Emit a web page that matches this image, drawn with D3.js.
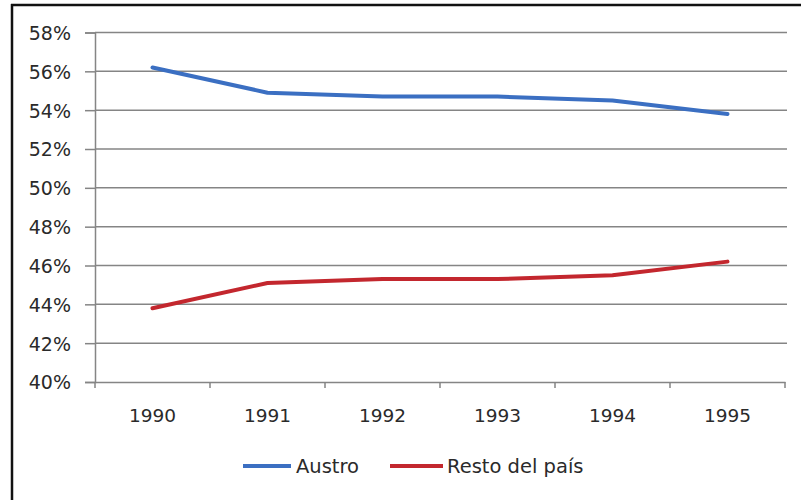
<!DOCTYPE html>
<html>
<head>
<meta charset="utf-8">
<script src="https://cdn.jsdelivr.net/npm/d3@7"></script>
<style>
  html, body { margin: 0; padding: 0; background: #fff; }
  svg { display: block; }
</style>
</head>
<body>
<svg id="chart" width="801" height="500"></svg>
<script>
const years = ["1990", "1991", "1992", "1993", "1994", "1995"];
const austro = [56.2, 54.9, 54.7, 54.7, 54.5, 53.8];
const resto = [43.8, 45.1, 45.3, 45.3, 45.5, 46.2];
const yTicks = [40, 42, 44, 46, 48, 50, 52, 54, 56, 58];
const seriesNames = ["Austro", "Resto del país"];
const seriesColors = ["#3b6fc2", "#c3272e"];

const svg = d3.select("#chart");
const W = 801, H = 500;

// frame
svg.append("line").attr("x1", 11).attr("x2", W).attr("y1", 5).attr("y2", 5)
  .attr("stroke", "#111").attr("stroke-width", 2.5);
svg.append("line").attr("x1", 12).attr("x2", 12).attr("y1", 4).attr("y2", H)
  .attr("stroke", "#111").attr("stroke-width", 2.5);

const x = d3.scaleBand().domain(years).range([95, 785]).padding(0);
const y = d3.scaleLinear().domain([40, 58]).range([382, 32.5]);

const g = svg.append("g");

// gridlines
g.selectAll("line.grid").data(yTicks.filter(d => d > 40)).enter().append("line")
  .attr("x1", 95).attr("x2", 787)
  .attr("y1", d => y(d)).attr("y2", d => y(d))
  .attr("stroke", "#858585").attr("stroke-width", 1.5);

// y axis
const yAxis = d3.axisLeft(y).tickValues(yTicks).tickSize(10).tickFormat(d => d + "%");
const ya = svg.append("g").attr("transform", "translate(95,0)").call(yAxis);
ya.select(".domain").attr("stroke", "#858585").attr("stroke-width", 1.5);
ya.selectAll(".tick line").attr("stroke", "#858585").attr("stroke-width", 1.5);
ya.selectAll(".tick text").attr("x", -24).attr("dy", "0.36em")
  .attr("font-family", "DejaVu Sans").attr("font-size", 19).attr("fill", "#2a2a2a");

// x axis
const xa = svg.append("g").attr("transform", "translate(0,382)")
  .call(d3.axisBottom(x).tickSize(0).tickPadding(0));
xa.select(".domain").attr("stroke", "#858585").attr("stroke-width", 1.5);
xa.selectAll(".tick text").attr("y", 40).attr("dy", 0)
  .attr("font-family", "DejaVu Sans").attr("font-size", 18.5).attr("fill", "#2a2a2a");
// boundary ticks between categories
const bounds = years.map(d => x(d)).concat([x.range()[1]]);
xa.selectAll("line.bt").data(bounds).enter().append("line")
  .attr("x1", d => d).attr("x2", d => d).attr("y1", 0).attr("y2", 6)
  .attr("stroke", "#858585").attr("stroke-width", 1.5);

// lines
const line = d3.line()
  .x((d, i) => x(years[i]) + x.bandwidth() / 2)
  .y(d => y(d))
  .curve(d3.curveLinear);

[austro, resto].forEach((s, i) => {
  g.append("path").datum(s).attr("d", line)
    .attr("fill", "none").attr("stroke", seriesColors[i])
    .attr("stroke-width", 4).attr("stroke-linecap", "round").attr("stroke-linejoin", "round");
});

// legend
const legendItems = [
  { name: seriesNames[0], color: seriesColors[0], x0: 243, x1: 291, tx: 296 },
  { name: seriesNames[1], color: seriesColors[1], x0: 390, x1: 443, tx: 447 }
];
const lg = svg.append("g");
legendItems.forEach(it => {
  lg.append("line").attr("x1", it.x0).attr("x2", it.x1).attr("y1", 466).attr("y2", 466)
    .attr("stroke", it.color).attr("stroke-width", 4);
  lg.append("text").attr("x", it.tx).attr("y", 466).attr("dy", "0.36em")
    .attr("font-family", "DejaVu Sans").attr("font-size", 19.5).attr("fill", "#2a2a2a")
    .text(it.name);
});
</script>
</body>
</html>
